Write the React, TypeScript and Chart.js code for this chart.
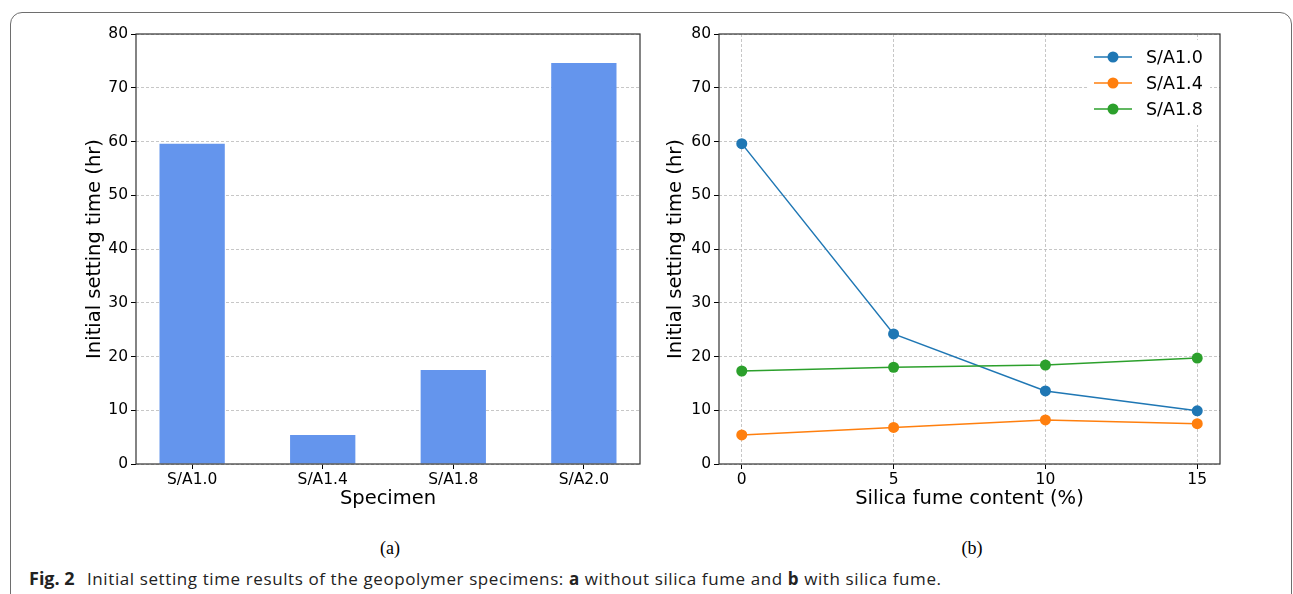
import React, { useEffect, useRef } from "react";
import { Chart, registerables } from "chart.js";

Chart.register(...registerables);

// ---- data ----
const specimens = ["S/A1.0", "S/A1.4", "S/A1.8", "S/A2.0"];
const settingNoSF = [59.6, 5.4, 17.5, 74.6];

const sfContent = [0, 5, 10, 15];
const seriesLabels = ["S/A1.0", "S/A1.4", "S/A1.8"];
const sa10 = [59.6, 24.2, 13.6, 9.9];
const sa14 = [5.4, 6.8, 8.2, 7.5];
const sa18 = [17.3, 18.0, 18.4, 19.7];
const yTicks = [0, 10, 20, 30, 40, 50, 60, 70, 80];
const sfTicks = [0, 5, 10, 15];

const FONT = "'DejaVu Sans', sans-serif";
const GRID = "#b9b9b9";
const SERIES_COLORS = ["#1f77b4", "#ff7f0e", "#2ca02c"];
const TICK_SIZE = 15.5;

const spinesPlugin = {
  id: "spines",
  afterDatasetsDraw(chart: any) {
    const { ctx, chartArea } = chart;
    ctx.save();
    ctx.strokeStyle = "#333";
    ctx.lineWidth = 1.2;
    ctx.strokeRect(chartArea.left, chartArea.top, chartArea.right - chartArea.left, chartArea.bottom - chartArea.top);
    ctx.restore();
  },
};

const legendPlugin = {
  id: "inlineLegend",
  afterDraw(chart: any) {
    const { ctx, chartArea } = chart;
    const w = 122;
    const h = 85;
    const x = chartArea.right - 10 - w;
    const y = chartArea.top + 6;
    ctx.save();
    ctx.fillStyle = "#fff";
    ctx.fillRect(x, y, w, h);
    chart.data.datasets.forEach((ds: any, i: number) => {
      const cy = y + 17 + i * 26;
      const x0 = x + 6;
      ctx.strokeStyle = ds.borderColor;
      ctx.lineWidth = 1.5;
      ctx.beginPath();
      ctx.moveTo(x0, cy);
      ctx.lineTo(x0 + 38, cy);
      ctx.stroke();
      ctx.fillStyle = ds.pointBackgroundColor;
      ctx.beginPath();
      ctx.arc(x0 + 19, cy, 5.5, 0, Math.PI * 2);
      ctx.fill();
      ctx.fillStyle = "#000";
      ctx.font = `17.5px ${FONT}`;
      ctx.textBaseline = "middle";
      ctx.textAlign = "left";
      ctx.fillText(ds.label, x0 + 52, cy + 1);
    });
    ctx.restore();
  },
};

function yAxis(titlePad: number, width: number) {
  return {
    type: "linear" as const,
    min: 0,
    max: 80,
    afterBuildTicks: (s: any) => {
      s.ticks = yTicks.map((v) => ({ value: v }));
    },
    afterFit: (s: any) => {
      s.width = width;
    },
    ticks: { color: "#000", font: { family: FONT, size: TICK_SIZE }, padding: 3 },
    grid: {
      color: GRID,
      lineWidth: 0.8,
      tickLength: 5,
      tickColor: "#000",
      tickWidth: 1,
      tickBorderDash: [],
      borderDash: [3, 2],
    },
    border: { display: false, dash: [3, 2] },
    title: {
      display: true,
      text: "Initial setting time (hr)",
      color: "#000",
      font: { family: FONT, size: 19.5 },
      padding: { top: titlePad, bottom: 0 },
    },
  };
}

export default function App() {
  const leftRef = useRef<HTMLCanvasElement>(null);
  const rightRef = useRef<HTMLCanvasElement>(null);

  useEffect(() => {
    const left = new Chart(leftRef.current!, {
      type: "bar",
      data: {
        datasets: [
          {
            label: "Initial setting time",
            data: settingNoSF.map((v, i) => ({ x: i, y: v })),
            backgroundColor: "#6495ED",
            borderWidth: 0,
            categoryPercentage: 0.5,
            barPercentage: 1,
          },
        ],
      },
      options: {
        responsive: false,
        animation: false,
        layout: { padding: { top: 20, right: 20, left: 0, bottom: 0 } },
        plugins: { legend: { display: false }, tooltip: { enabled: false } },
        scales: {
          x: {
            type: "linear",
            offset: false,
            min: -0.43,
            max: 3.43,
            afterBuildTicks: (s: any) => {
              s.ticks = specimens.map((_, i) => ({ value: i }));
            },
            afterFit: (s: any) => {
              s.height = 60;
            },
            ticks: {
              color: "#000",
              font: { family: FONT, size: TICK_SIZE },
              padding: 2,
              maxRotation: 0,
              callback: (v: any) => specimens[v as number] ?? "",
            },
            grid: {
              offset: false,
              drawOnChartArea: false,
              tickLength: 5,
              tickColor: "#000",
              tickWidth: 1,
            },
            border: { display: false },
            title: {
              display: true,
              text: "Specimen",
              color: "#000",
              font: { family: FONT, size: 19.5 },
              padding: { top: 0, bottom: 13 },
            },
          },
          y: yAxis(43, 96),
        },
      },
      plugins: [spinesPlugin],
    } as any);

    const mk = (vals: number[], i: number) => ({
      label: seriesLabels[i],
      data: sfContent.map((x, j) => ({ x, y: vals[j] })),
      borderColor: SERIES_COLORS[i],
      backgroundColor: SERIES_COLORS[i],
      pointBackgroundColor: SERIES_COLORS[i],
      pointBorderWidth: 0,
      pointRadius: 5.5,
      pointHoverRadius: 5.5,
      borderWidth: 1.5,
      order: 3 - i,
    });

    const right = new Chart(rightRef.current!, {
      type: "line",
      data: { datasets: [mk(sa10, 0), mk(sa14, 1), mk(sa18, 2)] },
      options: {
        responsive: false,
        animation: false,
        layout: { padding: { top: 20, right: 20, left: 0, bottom: 0 } },
        plugins: { legend: { display: false }, tooltip: { enabled: false } },
        scales: {
          x: {
            type: "linear",
            min: -0.75,
            max: 15.75,
            afterBuildTicks: (s: any) => {
              s.ticks = sfTicks.map((v) => ({ value: v }));
            },
            afterFit: (s: any) => {
              s.height = 60;
            },
            ticks: { color: "#000", font: { family: FONT, size: TICK_SIZE }, padding: 2, maxRotation: 0 },
            grid: {
              color: GRID,
              lineWidth: 0.8,
              tickLength: 5,
              tickColor: "#000",
              tickWidth: 1,
              tickBorderDash: [],
              borderDash: [3, 2],
            },
            border: { display: false, dash: [3, 2] },
            title: {
              display: true,
              text: "Silica fume content (%)",
              color: "#000",
              font: { family: FONT, size: 19.5 },
              padding: { top: 0, bottom: 13 },
            },
          },
          y: yAxis(34, 89),
        },
      },
      plugins: [spinesPlugin, legendPlugin],
    } as any);

    return () => {
      left.destroy();
      right.destroy();
    };
  }, []);

  const captionFont = "'Open Sans', 'Noto Sans', sans-serif";
  return (
    <div
      style={{
        position: "absolute",
        left: 0,
        top: 0,
        width: 1293,
        height: 594,
        overflow: "hidden",
        background: "#fff",
      }}
    >
      <div
        style={{
          position: "absolute",
          left: 10,
          top: 12,
          width: 1282,
          height: 700,
          boxSizing: "border-box",
          border: "1.5px solid #6e6e6e",
          borderRadius: 12,
        }}
      />
      <div style={{ position: "absolute", left: 40, top: 14 }}>
        <canvas ref={leftRef} width={620} height={510} />
      </div>
      <div style={{ position: "absolute", left: 630, top: 14 }}>
        <canvas ref={rightRef} width={610} height={510} />
      </div>
      <div
        style={{
          position: "absolute",
          left: 350,
          top: 537,
          width: 80,
          textAlign: "center",
          fontFamily: "'Liberation Serif', serif",
          fontSize: 18,
          lineHeight: "22px",
          color: "#000",
        }}
      >
        (a)
      </div>
      <div
        style={{
          position: "absolute",
          left: 932,
          top: 537,
          width: 80,
          textAlign: "center",
          fontFamily: "'Liberation Serif', serif",
          fontSize: 18,
          lineHeight: "22px",
          color: "#000",
        }}
      >
        (b)
      </div>
      <div
        style={{
          position: "absolute",
          left: 29,
          top: 567,
          fontFamily: captionFont,
          fontSize: 18,
          lineHeight: "22px",
          fontWeight: 700,
          color: "#222",
          whiteSpace: "nowrap",
        }}
      >
        Fig. 2
      </div>
      <div
        style={{
          position: "absolute",
          left: 87,
          top: 568,
          fontFamily: captionFont,
          fontSize: 17,
          letterSpacing: "0.6px",
          lineHeight: "22px",
          color: "#222",
          whiteSpace: "nowrap",
        }}
      >
        Initial setting time results of the geopolymer specimens: <b>a</b> without silica fume and <b>b</b> with silica
        fume.
      </div>
    </div>
  );
}
